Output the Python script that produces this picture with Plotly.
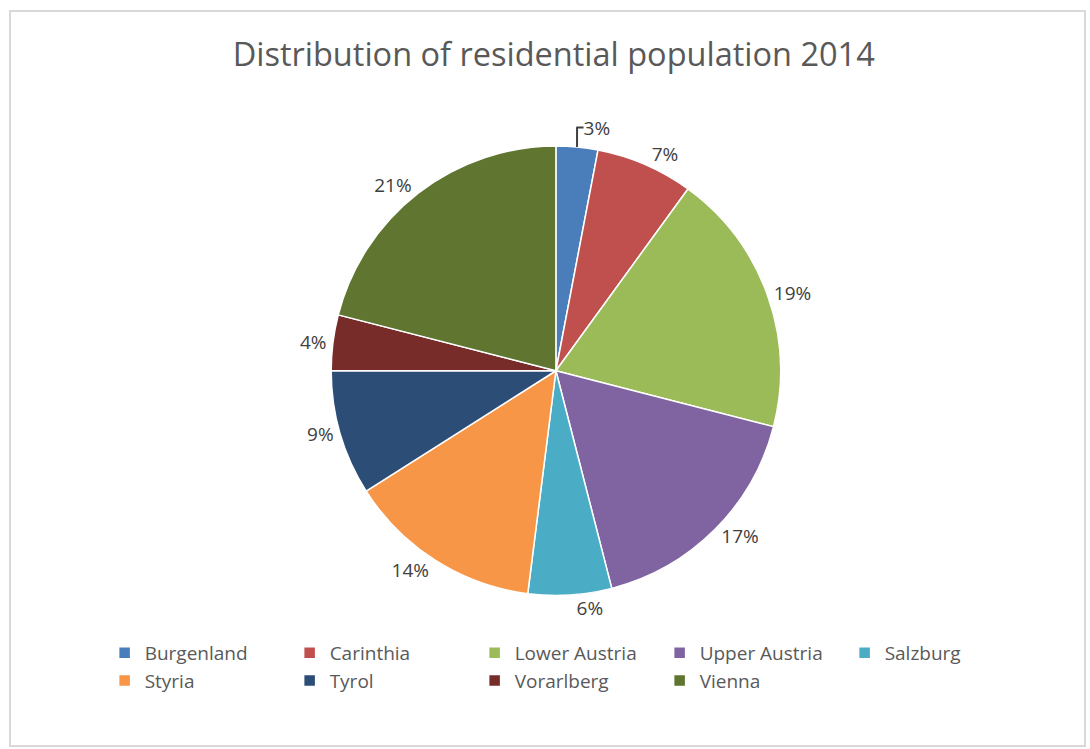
import plotly.graph_objects as go

regions = ["Burgenland", "Carinthia", "Lower Austria", "Upper Austria", "Salzburg",
           "Styria", "Tyrol", "Vorarlberg", "Vienna"]
shares = [3, 7, 19, 17, 6, 14, 9, 4, 21]
colors = ["#4a7ebb", "#c0504d", "#9bbb59", "#8064a2", "#4bacc6",
          "#f79646", "#2c4d75", "#772c2a", "#5f7530"]

fig = go.Figure(go.Pie(
    labels=regions,
    values=shares,
    sort=False,
    direction="clockwise",
    rotation=0,
    marker=dict(colors=colors, line=dict(color="white", width=1.5)),
    textinfo="percent",
    textposition="outside",
    textfont=dict(size=19, color="#404040", family="Open Sans"),
    domain=dict(x=[0.1, 0.92], y=[0.205, 0.805]),
    hoverinfo="label+percent",
))

fig.update_layout(
    width=1090, height=749,
    margin=dict(l=0, r=0, t=0, b=0, autoexpand=False),
    paper_bgcolor="white",
    font=dict(family="Open Sans", color="#595959"),
    title=dict(text="Distribution of residential population 2014",
               x=0.508, xanchor="center", y=1 - 55/749, yanchor="middle",
               font=dict(size=32.5, color="#595959", family="Open Sans")),
    showlegend=True,
    legend=dict(orientation="h", x=0.096, xanchor="left", y=1 - 634/749, yanchor="top",
                entrywidth=140, entrywidthmode="pixels",
                font=dict(size=19, color="#595959", family="Open Sans"),
                itemwidth=30),
    shapes=[dict(type="rect", xref="paper", yref="paper",
                 x0=10/1090, x1=1085/1090, y0=1-746/749, y1=1-11/749,
                 line=dict(color="#d9d9d9", width=2), fillcolor="rgba(0,0,0,0)")],
)

fig.write_html("out.html", config={"displayModeBar": False},
               post_script="document.body.style.margin='0';document.body.style.overflow='hidden';")
